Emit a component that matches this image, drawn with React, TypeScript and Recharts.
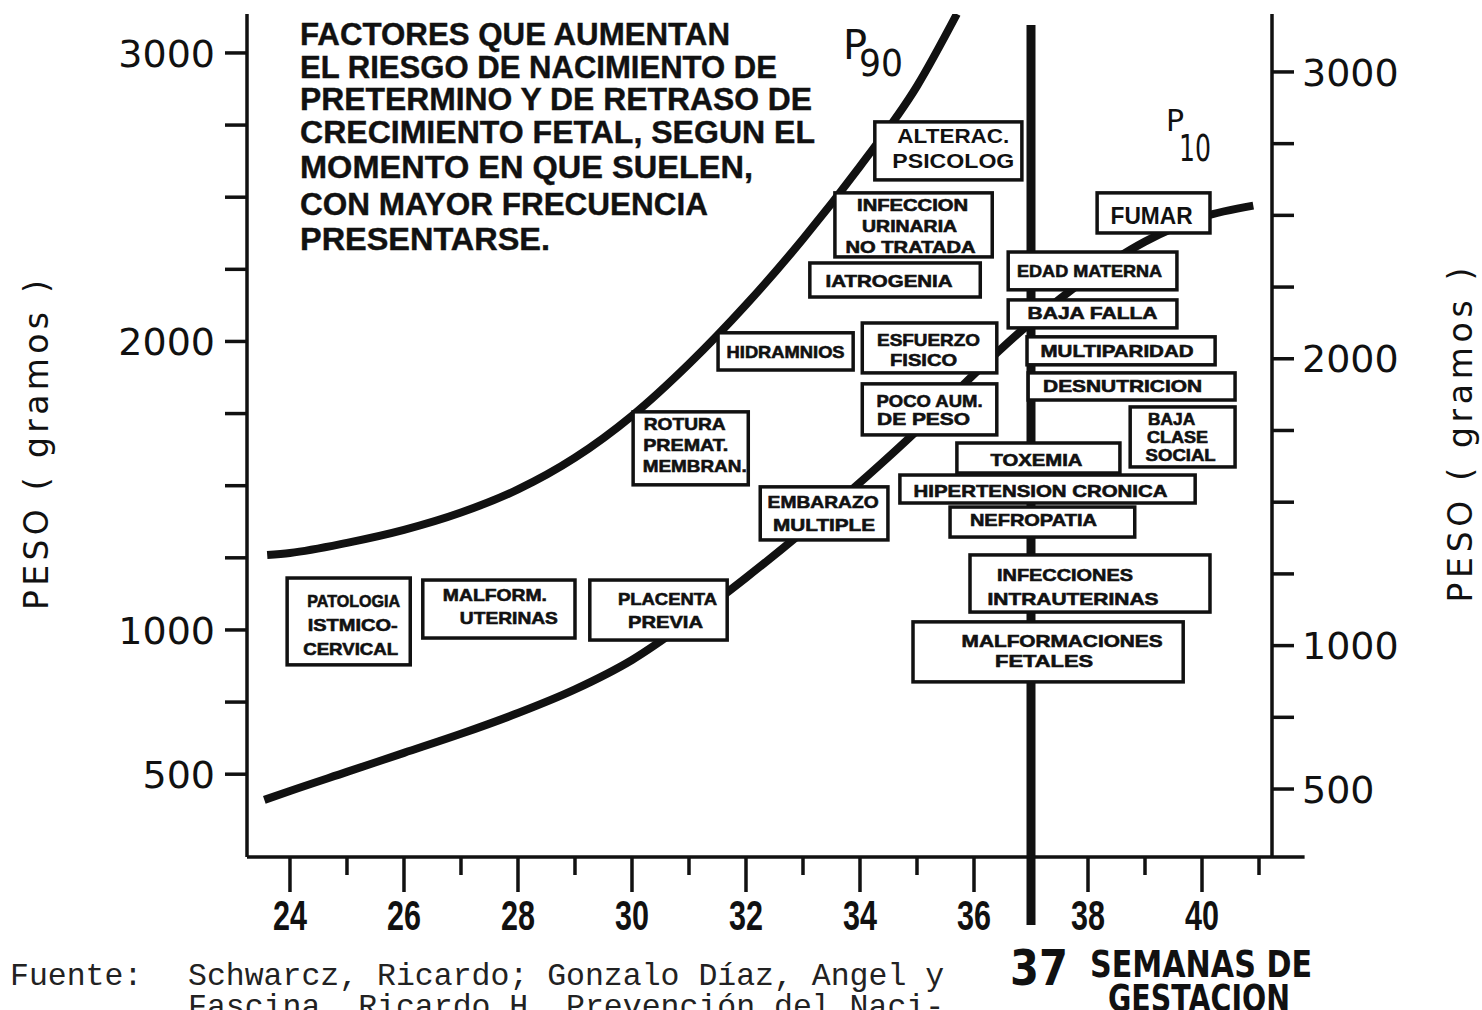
import React from 'react';
import { LineChart, Line, XAxis, YAxis, ReferenceArea, ReferenceLine } from 'recharts';

const INK = '#111';

// percentile curves (weeks of gestation, grams)
const weeksP90 = [23.6, 24, 25, 26, 27, 28, 29, 30, 31, 32, 33, 34, 35, 35.7];
const gramsP90 = [1260, 1267, 1302, 1347, 1407, 1487, 1597, 1742, 1922, 2127, 2355, 2607, 2885, 3135];

const weeksP10 = [23.55, 24, 25, 26, 27, 28, 29, 30, 31, 32, 33, 34, 35, 36, 37, 38, 39, 40, 40.9];
const gramsP10 = [411, 442, 508, 574, 640, 712, 794, 896, 1031, 1181, 1341, 1511, 1691, 1886, 2066, 2221, 2346, 2431, 2471];

const weekTicks = [24, 25, 26, 27, 28, 29, 30, 31, 32, 33, 34, 35, 36, 37, 38, 39, 40, 41];
const gramTicks = [500, 750, 1000, 1250, 1500, 1750, 2000, 2250, 2500, 2750, 3000];
const gramLabels = [500, 1000, 2000, 3000];

// risk factors: label lines, week span, gram span
const factorLabels = [
  ['PATOLOGIA', 'ISTMICO-', 'CERVICAL'],
  ['MALFORM.', 'UTERINAS'],
  ['PLACENTA', 'PREVIA'],
  ['ROTURA', 'PREMAT.', 'MEMBRAN.'],
  ['HIDRAMNIOS'],
  ['ESFUERZO', 'FISICO'],
  ['POCO AUM.', 'DE  PESO'],
  ['EMBARAZO', 'MULTIPLE'],
  ['ALTERAC.', 'PSICOLOG'],
  ['INFECCION', 'URINARIA', 'NO TRATADA'],
  ['IATROGENIA'],
  ['FUMAR'],
  ['EDAD MATERNA'],
  ['BAJA FALLA'],
  ['MULTIPARIDAD'],
  ['DESNUTRICION'],
  ['BAJA', 'CLASE', 'SOCIAL'],
  ['TOXEMIA'],
  ['HIPERTENSION CRONICA'],
  ['NEFROPATIA'],
  ['INFECCIONES', 'INTRAUTERINAS'],
  ['MALFORMACIONES', 'FETALES'],
];
const factorWeekFrom = [23.95, 26.33, 29.26, 30.02, 31.51, 34.04, 34.04, 32.25, 34.26, 33.56, 33.12, 38.16, 36.6, 36.6, 36.93, 36.95, 38.74, 35.7, 34.7, 35.58, 35.93, 34.93];
const factorWeekTo = [26.11, 29.0, 31.67, 32.04, 33.88, 36.4, 36.4, 34.49, 36.84, 36.32, 36.11, 40.14, 39.56, 39.56, 40.23, 40.58, 40.58, 38.56, 39.88, 38.82, 40.14, 39.67];
const factorGramHigh = [1180, 1173, 1173, 1756, 2030, 2064, 1853, 1496, 2761, 2515, 2272, 2515, 2310, 2144, 2016, 1891, 1773, 1648, 1537, 1426, 1260, 1028];
const factorGramLow = [879, 972, 965, 1503, 1901, 1891, 1676, 1312, 2560, 2293, 2154, 2376, 2179, 2047, 1919, 1797, 1565, 1544, 1440, 1322, 1062, 820];

// text styling inside each box (font size, line gap, text widths, offsets)
const boxText = [
  { fs: 17, gap: 24, w: [93, 90, 95], dx: [5, 4, 2], dy: 3 },
  { fs: 17, gap: 23, w: [104, 98], dx: [-4, 10], dy: -3 },
  { fs: 17, gap: 23, w: [99, 75], dx: [9, 7], dy: 0 },
  { fs: 17, gap: 21, w: [82, 85, 104], dx: [-6, -5, 4], dy: -3 },
  { fs: 17, gap: 0, w: [118], dx: [0], dy: 0 },
  { fs: 17, gap: 20, w: [103, 67], dx: [-1, -6], dy: 2 },
  { fs: 17, gap: 18, w: [106, 93], dx: [0, -6], dy: 0 },
  { fs: 17, gap: 23, w: [111, 102], dx: [-1, 0], dy: 0 },
  { fs: 21, gap: 25, w: [112, 122], dx: [5, 5], dy: -3 },
  { fs: 16, gap: 21, w: [111, 95, 130], dx: [-1, -4, -3], dy: 1 },
  { fs: 17, gap: 0, w: [127], dx: [-6], dy: 1 },
  { fs: 24, gap: 0, w: [82], dx: [-2], dy: 2 },
  { fs: 17, gap: 0, w: [145], dx: [-3], dy: 0 },
  { fs: 17, gap: 0, w: [130], dx: [0], dy: -1 },
  { fs: 17, gap: 0, w: [153], dx: [-4], dy: 0 },
  { fs: 17, gap: 0, w: [159], dx: [-9], dy: -1 },
  { fs: 16, gap: 18, w: [47, 61, 70], dx: [-11, -5, -2], dy: 0 },
  { fs: 17, gap: 0, w: [92], dx: [-2], dy: 2 },
  { fs: 17, gap: 0, w: [254], dx: [-7], dy: 2 },
  { fs: 17, gap: 0, w: [127], dx: [-9], dy: -2 },
  { fs: 17, gap: 24, w: [136, 171], dx: [-25, -17], dy: 3 },
  { fs: 17, gap: 20, w: [201, 98], dx: [14, -4], dy: -1 },
];

const titleLines = [
  'FACTORES QUE AUMENTAN',
  'EL RIESGO DE NACIMIENTO DE',
  'PRETERMINO Y DE RETRASO DE',
  'CRECIMIENTO FETAL, SEGUN EL',
  'MOMENTO EN QUE SUELEN,',
  'CON MAYOR FRECUENCIA',
  'PRESENTARSE.',
];
const titleBaselines = [45, 78, 110, 143, 178, 215, 250];
const titleWidths = [430, 477, 512, 515, 453, 408, 250];

const p90 = weeksP90.map((w, i) => ({ w, g: gramsP90[i] }));
const p10 = weeksP10.map((w, i) => ({ w, g: gramsP10[i] }));

const SANS = '"Liberation Sans", Arial, sans-serif';
const DEJA = '"DejaVu Sans", Verdana, sans-serif';
const MONO = '"Liberation Mono", "Courier New", monospace';

function FactorBox(props: any) {
  const { x, y, width, height, idx } = props;
  const st = boxText[idx];
  const lines = factorLabels[idx];
  const n = lines.length;
  const cx = x + width / 2;
  const cy = y + height / 2 + st.dy;
  return (
    <g>
      <rect x={x} y={y} width={width} height={height} fill="#fff" stroke={INK} strokeWidth={3.5} />
      {lines.map((t, i) => (
        <text
          key={i}
          x={cx + st.dx[i]}
          y={cy + (i - (n - 1) / 2) * st.gap}
          dy="0.36em"
          textAnchor="middle"
          fontFamily={SANS}
          fontWeight={700}
          fontSize={st.fs}
          textLength={st.w[i]}
          lengthAdjust="spacingAndGlyphs"
          fill={INK}
          stroke={INK}
          strokeWidth={idx === 8 || idx === 11 ? 0 : 0.6}
        >
          {t}
        </text>
      ))}
    </g>
  );
}

function WeekTick(props: any) {
  const { x, y, payload } = props;
  const w = payload.value;
  if (w === 37) {
    return (
      <text x={x + 8} y={y + 128} textAnchor="middle" fontFamily={DEJA} fontWeight={700} fontSize={50}
        textLength={58} lengthAdjust="spacingAndGlyphs" fill={INK}>37</text>
    );
  }
  const even = w % 2 === 0;
  return (
    <g>
      <line x1={x} x2={x} y1={y} y2={y + (even ? 35 : 18)} stroke={INK} strokeWidth={3.5} />
      {even && (
        <text x={x} y={y + 73} textAnchor="middle" fontFamily={SANS} fontWeight={700} fontSize={42}
          textLength={34} lengthAdjust="spacingAndGlyphs" fill={INK}>{w}</text>
      )}
    </g>
  );
}

function LeftTick(props: any) {
  const { x, y, payload } = props;
  return (
    <g>
      <line x1={x - 22} x2={x} y1={y} y2={y} stroke={INK} strokeWidth={3.5} />
      {gramLabels.includes(payload.value) && (
        <text x={x - 32} y={y} dy="0.36em" textAnchor="end" fontFamily={DEJA} fontSize={38} fill={INK}>
          {payload.value}
        </text>
      )}
    </g>
  );
}

function RightTick(props: any) {
  const { x, y, payload } = props;
  return (
    <g>
      <line x1={x} x2={x + 22} y1={y} y2={y} stroke={INK} strokeWidth={3.5} />
      {gramLabels.includes(payload.value) && (
        <text x={x + 30} y={y} dy="0.36em" textAnchor="start" fontFamily={DEJA} fontSize={38} fill={INK}>
          {payload.value}
        </text>
      )}
    </g>
  );
}

export default function App() {
  return (
    <div style={{ position: 'relative', width: 1482, height: 1010, background: '#fff', overflow: 'hidden' }}>
      <style>{'body{margin:0;background:#fff}'}</style>
      <LineChart width={1482} height={1010} margin={{ top: 14, right: 90, bottom: 93, left: 147 }}>
        <XAxis
          dataKey="w"
          type="number"
          domain={[23.246, 41.228]}
          allowDataOverflow
          ticks={weekTicks}
          interval={0}
          tick={(p: any) => <WeekTick {...p} />}
          tickSize={0}
          tickMargin={0}
          tickLine={false}
          axisLine={{ stroke: INK, strokeWidth: 3.5 }}
          height={60}
        />
        <YAxis
          yAxisId="left"
          type="number"
          domain={[213, 3135]}
          allowDataOverflow
          ticks={gramTicks}
          interval={0}
          tick={(p: any) => <LeftTick {...p} />}
          tickSize={0}
          tickMargin={0}
          tickLine={false}
          axisLine={{ stroke: INK, strokeWidth: 3.5 }}
          width={100}
        />
        <YAxis
          yAxisId="right"
          orientation="right"
          type="number"
          domain={[263, 3202]}
          allowDataOverflow
          ticks={gramTicks}
          interval={0}
          tick={(p: any) => <RightTick {...p} />}
          tickSize={0}
          tickMargin={0}
          tickLine={false}
          axisLine={{ stroke: INK, strokeWidth: 3.5 }}
          width={120}
        />
        <ReferenceLine
          yAxisId="left"
          segment={[{ x: 41.228, y: 213 }, { x: 41.8, y: 213 }]}
          ifOverflow="visible"
          stroke={INK}
          strokeWidth={3.5}
        />
        <ReferenceLine
          yAxisId="left"
          x={37}
          zIndex={300}
          ifOverflow="visible"
          shape={(p: any) => (
            <line x1={p.x1} x2={p.x2} y1={Math.min(p.y1, p.y2) + 11} y2={Math.max(p.y1, p.y2) + 68}
              stroke={INK} strokeWidth={9} />
          )}
        />
        <Line yAxisId="left" data={p90} dataKey="g" type="monotone" stroke={INK} strokeWidth={8}
          dot={false} activeDot={false} isAnimationActive={false} />
        <Line yAxisId="left" data={p10} dataKey="g" type="monotone" stroke={INK} strokeWidth={8}
          dot={false} activeDot={false} isAnimationActive={false} />
        {factorLabels.map((_, i) => (
          <ReferenceArea
            key={i}
            yAxisId="left"
            x1={factorWeekFrom[i]}
            x2={factorWeekTo[i]}
            y1={factorGramLow[i]}
            y2={factorGramHigh[i]}
            ifOverflow="visible"
            zIndex={450}
            shape={(p: any) => <FactorBox {...p} idx={i} />}
          />
        ))}
      </LineChart>

      <svg width={1482} height={1010} style={{ position: 'absolute', left: 0, top: 0, pointerEvents: 'none' }}>
        {titleLines.map((t, i) => (
          <text key={i} x={300} y={titleBaselines[i]} fontFamily={SANS} fontWeight={700} fontSize={31}
            textLength={titleWidths[i]} lengthAdjust="spacingAndGlyphs" fill={INK} stroke={INK} strokeWidth={0.4}>
            {t}
          </text>
        ))}
        <text x={843} y={59} fontFamily={DEJA} fontSize={40} fill={INK}>P</text>
        <text x={859} y={76} fontFamily={DEJA} fontSize={38} textLength={44} lengthAdjust="spacingAndGlyphs" fill={INK}>90</text>
        <text x={1166} y={131} fontFamily={DEJA} fontSize={30} fill={INK}>P</text>
        <text x={1179} y={161} fontFamily={DEJA} fontSize={38} textLength={32} lengthAdjust="spacingAndGlyphs" fill={INK}>10</text>

        <text transform="rotate(-90 48 445)" x={48} y={445} textAnchor="middle" fontFamily={DEJA} fontSize={33}
          textLength={330} lengthAdjust="spacing" fill={INK}>PESO ( gramos )</text>
        <text transform="rotate(-90 1472 435)" x={1472} y={435} textAnchor="middle" fontFamily={DEJA} fontSize={33}
          textLength={335} lengthAdjust="spacing" fill={INK}>PESO ( gramos )</text>

        <text x={1090} y={977} fontFamily={DEJA} fontWeight={700} fontSize={37} textLength={222}
          lengthAdjust="spacingAndGlyphs" fill={INK}>SEMANAS DE</text>
        <text x={1108} y={1011} fontFamily={DEJA} fontWeight={700} fontSize={37} textLength={182}
          lengthAdjust="spacingAndGlyphs" fill={INK}>GESTACION</text>

        <text x={10} y={985} fontFamily={MONO} fontSize={31.5} fill="#222">Fuente:</text>
        <text x={188} y={985} fontFamily={MONO} fontSize={31.5} fill="#222">
          Schwarcz, Ricardo; Gonzalo Díaz, Angel y
        </text>
        <text x={188} y={1016} fontFamily={MONO} fontSize={31.5} fill="#222">
          Fascina, Ricardo H. Prevención del Naci-
        </text>
      </svg>
    </div>
  );
}
